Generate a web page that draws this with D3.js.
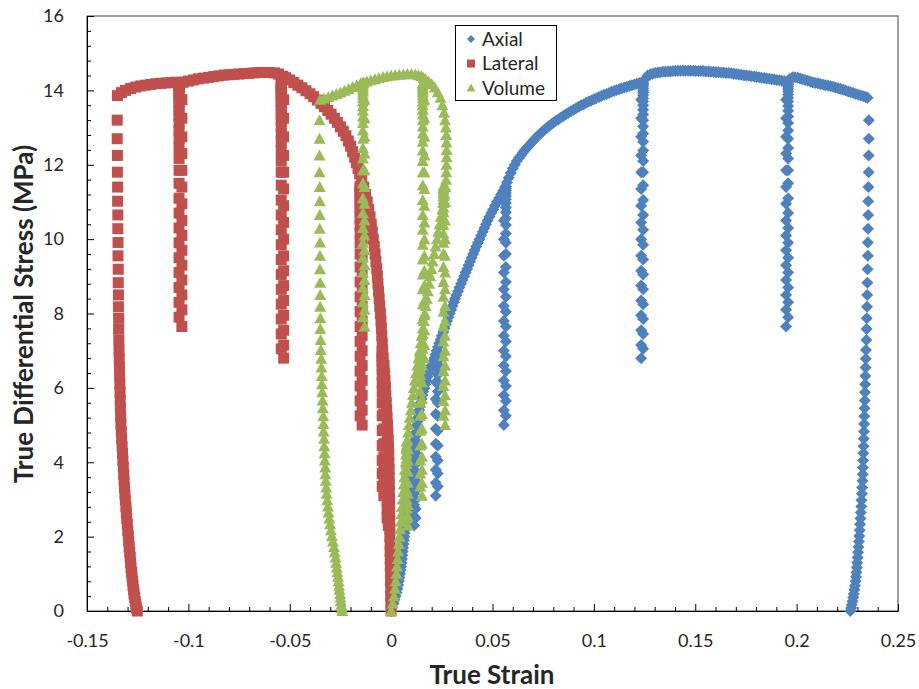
<!DOCTYPE html>
<html><head><meta charset="utf-8">
<script src="https://cdn.jsdelivr.net/npm/d3@7"></script>
<style>
html,body{margin:0;padding:0;background:#fff;}
svg{display:block;font-family:Lato,"Open Sans",sans-serif;}
</style></head><body>
<svg id="chart" width="919" height="689"></svg>
<script>
// ---------------- DATA ----------------
const seriesNames = ["Axial", "Lateral", "Volume"];
const xTickValues = [-0.15, -0.1, -0.05, 0, 0.05, 0.1, 0.15, 0.2, 0.25];
const xTickLabels = ["-0.15", "-0.1", "-0.05", "0", "0.05", "0.1", "0.15", "0.2", "0.25"];
const yTickValues = [0, 2, 4, 6, 8, 10, 12, 14, 16];
const yTickLabels = ["0", "2", "4", "6", "8", "10", "12", "14", "16"];
const xTitle = "True Strain";
const yTitle = "True Differential Stress (MPa)";

// loading envelope segments (strain, stress) between the unload/reload cycles
const axialEnv1 = [[0,0],[0.0006,0.1],[0.0012,0.2],[0.0017,0.3],[0.0022,0.4],[0.0027,0.5],[0.0031,0.6],[0.0035,0.7],[0.0038,0.8],[0.0041,0.9],[0.0044,1.0],[0.0047,1.1],[0.0049,1.2],[0.0051,1.3],[0.0053,1.4],[0.0055,1.5],[0.0057,1.6],[0.0059,1.7],[0.0061,1.8],[0.0063,1.9],[0.0065,2.0],[0.0067,2.1],[0.0069,2.2],[0.0071,2.3],[0.0073,2.4],[0.0075,2.5],[0.0077,2.6],[0.0079,2.7],[0.0081,2.8],[0.0083,2.9],[0.0085,3.0],[0.0087,3.1],[0.0089,3.2],[0.0091,3.3],[0.0093,3.4],[0.0095,3.5],[0.0097,3.6],[0.0099,3.7],[0.0101,3.8],[0.0103,3.9],[0.0105,4.0],[0.0107,4.1],[0.0109,4.2],[0.0111,4.3],[0.0113,4.4],[0.0115,4.5],[0.0117,4.6]];
const axialEnv2 = [[0.0120,4.7],[0.0122,4.8],[0.0125,4.9],[0.0127,5.0],[0.0130,5.1],[0.0132,5.2],[0.0135,5.3],[0.0138,5.4],[0.0142,5.5],[0.0146,5.6],[0.0150,5.7],[0.0154,5.8],[0.0158,5.9],[0.0163,6.0],[0.0168,6.1],[0.0173,6.2],[0.0179,6.3],[0.0185,6.4],[0.0192,6.5],[0.0199,6.6],[0.0206,6.7],[0.0213,6.8],[0.0219,6.9],[0.0225,7.0]];
const axialEnv3 = [[0.0231,7.1],[0.0237,7.2],[0.0244,7.3],[0.0250,7.4],[0.0257,7.5],[0.0263,7.6],[0.0270,7.7],[0.0276,7.8],[0.0283,7.9],[0.0289,8.0],[0.0296,8.1],[0.0302,8.2],[0.0309,8.3],[0.0315,8.4],[0.0322,8.5],[0.0330,8.6],[0.0337,8.7],[0.0345,8.8],[0.0352,8.9],[0.0360,9.0],[0.0367,9.1],[0.0375,9.2],[0.0382,9.3],[0.0390,9.4],[0.0397,9.5],[0.0405,9.6],[0.0412,9.7],[0.0420,9.8],[0.0428,9.9],[0.0436,10.0],[0.0444,10.1],[0.0452,10.2],[0.0460,10.3],[0.0468,10.4],[0.0476,10.5],[0.0485,10.6],[0.0494,10.7],[0.0503,10.8],[0.0512,10.9],[0.0522,11.0],[0.0532,11.1],[0.0542,11.2],[0.0552,11.3],[0.0562,11.4]];
const axialEnv4 = [[0.0571,11.52],[0.0580,11.65],[0.0590,11.78],[0.0600,11.9],[0.0610,12.0],[0.0620,12.1],[0.0630,12.18],[0.0640,12.25],[0.0650,12.33],[0.0660,12.4],[0.0670,12.46],[0.0680,12.52],[0.0690,12.58],[0.0700,12.64],[0.0710,12.7],[0.0720,12.76],[0.0730,12.81],[0.0740,12.86],[0.0750,12.91],[0.0760,12.96],[0.0770,13.0],[0.0780,13.05],[0.0790,13.09],[0.0800,13.13],[0.0812,13.18],[0.0825,13.22],[0.0837,13.27],[0.0850,13.31],[0.0862,13.36],[0.0875,13.4],[0.0887,13.44],[0.0900,13.48],[0.0912,13.52],[0.0925,13.56],[0.0937,13.6],[0.0950,13.63],[0.0962,13.67],[0.0975,13.7],[0.0987,13.73],[0.1000,13.76],[0.1012,13.79],[0.1025,13.82],[0.1037,13.85],[0.1050,13.88],[0.1062,13.9],[0.1075,13.93],[0.1087,13.96],[0.1100,13.98],[0.1112,14.01],[0.1125,14.03],[0.1137,14.06],[0.1150,14.08],[0.1162,14.1],[0.1175,14.12],[0.1187,14.14],[0.1200,14.16],[0.1212,14.18],[0.1225,14.2],[0.1240,14.22]];
const axialEnv5 = [[0.1252,14.3],[0.1265,14.4],[0.1278,14.43],[0.1290,14.45],[0.1302,14.47],[0.1315,14.48],[0.1327,14.49],[0.1340,14.5],[0.1352,14.5],[0.1365,14.51],[0.1377,14.51],[0.1390,14.52],[0.1402,14.52],[0.1415,14.53],[0.1427,14.53],[0.1440,14.53],[0.1452,14.53],[0.1465,14.53],[0.1477,14.53],[0.1490,14.53],[0.1502,14.52],[0.1515,14.52],[0.1527,14.52],[0.1540,14.52],[0.1552,14.51],[0.1565,14.51],[0.1577,14.5],[0.1590,14.5],[0.1602,14.49],[0.1615,14.49],[0.1627,14.48],[0.1640,14.48],[0.1652,14.47],[0.1665,14.47],[0.1677,14.46],[0.1690,14.45],[0.1702,14.44],[0.1715,14.43],[0.1727,14.42],[0.1740,14.41],[0.1752,14.4],[0.1765,14.39],[0.1777,14.38],[0.1790,14.37],[0.1802,14.36],[0.1815,14.35],[0.1827,14.34],[0.1840,14.33],[0.1852,14.32],[0.1865,14.31],[0.1877,14.3],[0.1890,14.29],[0.1902,14.28],[0.1915,14.27],[0.1927,14.26],[0.1940,14.25],[0.1955,14.24]];
const axialEnv6 = [[0.1965,14.3],[0.1980,14.35],[0.1992,14.35],[0.2005,14.34],[0.2017,14.32],[0.2030,14.3],[0.2042,14.28],[0.2055,14.26],[0.2067,14.24],[0.2080,14.22],[0.2092,14.2],[0.2105,14.19],[0.2117,14.17],[0.2130,14.16],[0.2142,14.14],[0.2155,14.13],[0.2167,14.11],[0.2180,14.1],[0.2192,14.08],[0.2205,14.06],[0.2217,14.04],[0.2230,14.02],[0.2242,14.0],[0.2255,13.97],[0.2267,13.95],[0.2280,13.93],[0.2292,13.9],[0.2305,13.88],[0.2317,13.86],[0.2330,13.84],[0.2340,13.82],[0.2350,13.8]];

const lateralEnv1 = [[0,0],[-0.0001,0.2],[-0.0002,0.4],[-0.0002,0.6],[-0.0003,0.8],[-0.0003,1.0],[-0.0004,1.2],[-0.0004,1.4],[-0.0005,1.6],[-0.0005,1.8],[-0.0006,2.0],[-0.0006,2.2],[-0.0007,2.4],[-0.0007,2.6],[-0.0008,2.8],[-0.0008,3.0],[-0.0009,3.2],[-0.0009,3.4],[-0.0010,3.6],[-0.0010,3.8],[-0.0011,4.0],[-0.0012,4.2],[-0.0013,4.4],[-0.0014,4.6]];
const lateralEnv2 = [[-0.0016,4.8],[-0.0018,5.0],[-0.0020,5.2],[-0.0022,5.4],[-0.0024,5.6],[-0.0026,5.8],[-0.0028,6.0],[-0.0030,6.2],[-0.0033,6.4],[-0.0036,6.6],[-0.0039,6.8],[-0.0042,7.0]];
const lateralEnv3 = [[-0.0044,7.2],[-0.0046,7.4],[-0.0048,7.6],[-0.0050,7.8],[-0.0053,8.0],[-0.0056,8.2],[-0.0059,8.4],[-0.0062,8.6],[-0.0065,8.8],[-0.0068,9.0],[-0.0071,9.2],[-0.0075,9.4],[-0.0079,9.6],[-0.0083,9.8],[-0.0088,10.0],[-0.0093,10.2],[-0.0098,10.4],[-0.0104,10.6],[-0.0111,10.8],[-0.0118,11.0],[-0.0126,11.2],[-0.0135,11.4],[-0.0145,11.6]];
const lateralEnv4 = [[-0.0155,11.75],[-0.0163,11.9],[-0.0171,12.05],[-0.0180,12.2],[-0.0190,12.35],[-0.0200,12.5],[-0.0211,12.64],[-0.0223,12.78],[-0.0236,12.9],[-0.0250,13.02],[-0.0265,13.14],[-0.0280,13.25],[-0.0296,13.36],[-0.0312,13.46],[-0.0329,13.56],[-0.0346,13.65],[-0.0364,13.74],[-0.0382,13.83],[-0.0400,13.91],[-0.0420,13.99],[-0.0440,14.07],[-0.0460,14.14],[-0.0480,14.21],[-0.0500,14.28],[-0.0520,14.34],[-0.0535,14.38]];
const lateralEnv5 = [[-0.0555,14.44],[-0.0575,14.47],[-0.0600,14.48],[-0.0625,14.48],[-0.0650,14.48],[-0.0675,14.47],[-0.0700,14.46],[-0.0725,14.45],[-0.0750,14.44],[-0.0775,14.43],[-0.0800,14.42],[-0.0825,14.41],[-0.0850,14.39],[-0.0875,14.37],[-0.0900,14.35],[-0.0925,14.33],[-0.0950,14.31],[-0.0975,14.28],[-0.1000,14.25],[-0.1025,14.22],[-0.1040,14.2]];
const lateralEnv6 = [[-0.1060,14.22],[-0.1085,14.21],[-0.1110,14.2],[-0.1135,14.19],[-0.1160,14.18],[-0.1185,14.16],[-0.1210,14.14],[-0.1235,14.12],[-0.1260,14.09],[-0.1285,14.05],[-0.1310,14.0],[-0.1330,13.94],[-0.1350,13.86]];

const volumeEnv1 = [[0,0],[0.0008,0.2],[0.0014,0.4],[0.0019,0.6],[0.0023,0.8],[0.0026,1.0],[0.0029,1.2],[0.0032,1.4],[0.0035,1.6],[0.0038,1.8],[0.0041,2.0],[0.0044,2.2],[0.0047,2.4],[0.0050,2.6],[0.0053,2.8],[0.0056,3.0],[0.0059,3.2],[0.0062,3.4],[0.0065,3.6],[0.0068,3.8],[0.0071,4.0],[0.0074,4.2],[0.0077,4.4],[0.0080,4.6]];
const volumeEnv2 = [[0.0084,4.8],[0.0088,5.0],[0.0092,5.2],[0.0097,5.4],[0.0102,5.6],[0.0107,5.8],[0.0112,6.0],[0.0117,6.2],[0.0123,6.4],[0.0129,6.6],[0.0135,6.8],[0.0141,7.0]];
const volumeEnv3 = [[0.0146,7.2],[0.0151,7.4],[0.0156,7.6],[0.0161,7.8],[0.0166,8.0],[0.0171,8.2],[0.0176,8.4],[0.0181,8.6],[0.0187,8.8],[0.0193,9.0],[0.0199,9.2],[0.0205,9.4],[0.0212,9.6],[0.0219,9.8],[0.0226,10.0],[0.0232,10.2],[0.0239,10.4],[0.0245,10.6],[0.0252,10.8],[0.0258,11.0],[0.0263,11.2],[0.0268,11.4],[0.0271,11.6]];
const volumeEnv4 = [[0.0272,11.8],[0.0273,12.0],[0.0274,12.2],[0.0274,12.4],[0.0273,12.6],[0.0272,12.8],[0.0270,13.0],[0.0266,13.2],[0.0261,13.4],[0.0253,13.6],[0.0243,13.8],[0.0230,13.95],[0.0215,14.08],[0.0200,14.17],[0.0185,14.24],[0.0170,14.3],[0.0160,14.33]];
const volumeEnv5 = [[0.0150,14.38],[0.0135,14.41],[0.0120,14.43],[0.0100,14.44],[0.0080,14.44],[0.0060,14.43],[0.0040,14.42],[0.0020,14.41],[0.0000,14.40],[-0.0020,14.38],[-0.0040,14.36],[-0.0060,14.33],[-0.0080,14.30],[-0.0100,14.27],[-0.0120,14.24],[-0.0135,14.21]];
const volumeEnv6 = [[-0.0150,14.19],[-0.0170,14.14],[-0.0190,14.09],[-0.0210,14.04],[-0.0230,13.99],[-0.0250,13.94],[-0.0270,13.9],[-0.0290,13.86],[-0.0310,13.82],[-0.0330,13.78],[-0.0350,13.75]];

// unload / reload cycles: stress samples shared by the three strain measures
const loopStressDown = [
  [4.35,4.05,3.75,3.45,3.15,2.85,2.55,2.3],
  [6.6,6.15,5.7,5.3,4.9,4.5,4.15,3.8,3.45,3.1],
  [11.0,10.5,10.0,9.55,9.1,8.65,8.2,7.8,7.4,7.0,6.6,6.2,5.8,5.4,5.0],
  [13.75,13.25,12.75,12.25,11.8,11.35,10.9,10.45,10.0,9.55,9.15,8.75,8.35,7.95,7.55,7.15,6.8],
  [13.75,13.25,12.75,12.3,11.85,11.4,10.95,10.5,10.1,9.7,9.3,8.9,8.5,8.1,7.65]
];
const loopStressUp = [
  [2.5,2.75,3.0,3.25,3.5,3.75,3.95,4.1,4.25,4.35,4.45,4.55],
  [3.35,3.7,4.05,4.45,4.85,5.25,5.6,5.9,6.15,6.35,6.5,6.62,6.72,6.8,6.87,6.93,6.98],
  [5.25,5.65,6.05,6.45,6.85,7.25,7.65,8.05,8.45,8.85,9.25,9.6,9.9,10.15,10.38,10.56,10.72,10.85,10.97,11.07,11.16,11.24,11.31,11.37,11.42],
  [7.05,7.45,7.85,8.25,8.65,9.05,9.45,9.85,10.25,10.65,11.05,11.45,11.8,12.1,12.38,12.62,12.84,13.03,13.2,13.35,13.48,13.6,13.7,13.79,13.87,13.94,14.0,14.06,14.11,14.16,14.2],
  [7.9,8.3,8.7,9.1,9.5,9.9,10.3,10.7,11.1,11.5,11.85,12.17,12.45,12.7,12.92,13.12,13.3,13.45,13.58,13.7,13.8,13.89,13.97,14.04,14.1,14.15,14.2]
];
// strain of each cycle: [unloading branch, reloading branch]
const axialLoopStrain   = [[0.0113,0.0121],[0.0220,0.0230],[0.0556,0.0566],[0.1233,0.1243],[0.1948,0.1958]];
const lateralLoopStrain = [[-0.0014,-0.0020],[-0.0036,-0.0044],[-0.0143,-0.0153],[-0.0530,-0.0542],[-0.1032,-0.1046]];
const volumeLoopStrain  = [[0.0082,0.0076],[0.0152,0.0144],[0.0266,0.0258],[0.0164,0.0156],[-0.0131,-0.0139]];

// final unloading
const finalStress = [13.2,12.7,12.25,11.8,11.4,11.02,10.65,10.28,9.91,9.55,9.19,8.83,8.5,8.18,7.87,7.58,7.29,7.02,6.78,6.55,6.32,6.1,5.88,5.66,5.45,5.24,5.03,4.83,4.63,4.43,4.24,4.05,3.86,3.68,3.5,3.32,3.15,2.98,2.81,2.65,2.49,2.33,2.17,2.02,1.87,1.72,1.58,1.44,1.3,1.17,1.04,0.92,0.8,0.68,0.57,0.46,0.36,0.26,0.17,0.08,0.0];
const axialFinalStrain = [0.2356,0.2356,0.2355,0.2355,0.2354,0.2353,0.2353,0.2352,0.2351,0.2351,0.2350,0.2349,0.2348,0.2347,0.2346,0.2345,0.2344,0.2342,0.2341,0.2340,0.2339,0.2338,0.2337,0.2336,0.2335,0.2334,0.2333,0.2332,0.2331,0.2330,0.2329,0.2328,0.2327,0.2326,0.2325,0.2323,0.2322,0.2320,0.2319,0.2317,0.2315,0.2313,0.2311,0.2309,0.2307,0.2305,0.2303,0.2301,0.2299,0.2297,0.2295,0.2293,0.2291,0.2288,0.2285,0.2282,0.2279,0.2276,0.2272,0.2269,0.2265];
const lateralFinalStrain = [-0.1351,-0.1351,-0.1350,-0.1350,-0.1349,-0.1349,-0.1348,-0.1348,-0.1347,-0.1347,-0.1346,-0.1346,-0.1345,-0.1345,-0.1344,-0.1344,-0.1343,-0.1342,-0.1341,-0.1340,-0.1339,-0.1338,-0.1337,-0.1336,-0.1335,-0.1334,-0.1333,-0.1331,-0.1329,-0.1327,-0.1325,-0.1323,-0.1321,-0.1319,-0.1317,-0.1315,-0.1313,-0.1311,-0.1308,-0.1306,-0.1304,-0.1301,-0.1299,-0.1296,-0.1294,-0.1292,-0.1289,-0.1287,-0.1285,-0.1283,-0.1280,-0.1278,-0.1275,-0.1273,-0.1270,-0.1268,-0.1265,-0.1262,-0.1259,-0.1256,-0.1252];
const volumeFinalStrain = [-0.0353,-0.0353,-0.0353,-0.0353,-0.0352,-0.0352,-0.0352,-0.0352,-0.0351,-0.0351,-0.0351,-0.0350,-0.0350,-0.0350,-0.0349,-0.0349,-0.0348,-0.0347,-0.0345,-0.0344,-0.0342,-0.0341,-0.0340,-0.0338,-0.0337,-0.0335,-0.0334,-0.0333,-0.0331,-0.0330,-0.0328,-0.0327,-0.0325,-0.0324,-0.0322,-0.0320,-0.0318,-0.0315,-0.0312,-0.0309,-0.0305,-0.0301,-0.0297,-0.0292,-0.0287,-0.0282,-0.0278,-0.0274,-0.0271,-0.0268,-0.0265,-0.0262,-0.0259,-0.0257,-0.0255,-0.0252,-0.0250,-0.0248,-0.0246,-0.0243,-0.0241];

// ---------------- BUILD ----------------
function buildSeries(envs, loopStrain, finalStrain) {
  const pts = [];
  envs.forEach((seg, i) => {
    seg.forEach(p => pts.push(p));
    if (i < loopStrain.length) {
      loopStressDown[i].forEach(s => pts.push([loopStrain[i][0], s]));
      loopStressUp[i].forEach(s => pts.push([loopStrain[i][1], s]));
    }
  });
  finalStress.forEach((s, j) => pts.push([finalStrain[j], s]));
  return pts;
}
const axialPts = buildSeries([axialEnv1,axialEnv2,axialEnv3,axialEnv4,axialEnv5,axialEnv6], axialLoopStrain, axialFinalStrain);
const lateralPts = buildSeries([lateralEnv1,lateralEnv2,lateralEnv3,lateralEnv4,lateralEnv5,lateralEnv6], lateralLoopStrain, lateralFinalStrain);
const volumePts = buildSeries([volumeEnv1,volumeEnv2,volumeEnv3,volumeEnv4,volumeEnv5,volumeEnv6], volumeLoopStrain, volumeFinalStrain);

const colors = ["#4F81BD", "#C0504D", "#9BBB59"];
const shapes = [
  "M0,-6L6,0L0,6L-6,0Z",
  "M-5.5,-5.5H5.5V5.5H-5.5Z",
  "M0,-6L6,5L-6,5Z"
];
const legendShapes = [
  "M0,-4L4,0L0,4L-4,0Z",
  "M-4,-4H4V4H-4Z",
  "M0,-4.5L4.5,3.5L-4.5,3.5Z"
];

const svg = d3.select("#chart");
const L = 87, R = 898, T = 16, B = 611;
const x = d3.scaleLinear().domain([-0.15, 0.25]).range([L, R]);
const y = d3.scaleLinear().domain([0, 16]).range([B, T]);

svg.append("rect").attr("width", 919).attr("height", 689).attr("fill", "#fff");

// plot border
svg.append("rect").attr("x", L).attr("y", T).attr("width", R - L).attr("height", B - T)
  .attr("fill", "none").attr("stroke", "#404040").attr("stroke-width", 1);

// axes
const fontColor = "#262626";
const xMinor = d3.range(-0.14, 0.25, 0.01).filter(v => Math.abs(Math.round(v * 100) % 5) !== 0);
const yMinor = d3.range(0.4, 16, 0.4).filter(v => Math.abs(v / 2 - Math.round(v / 2)) > 1e-6);

const gx = svg.append("g").attr("transform", `translate(0,${B})`)
  .call(d3.axisBottom(x).tickValues(xTickValues).tickSizeInner(-7).tickSizeOuter(0).tickPadding(23)
    .tickFormat((d, i) => xTickLabels[i]));
svg.append("g").attr("transform", `translate(0,${B})`)
  .call(d3.axisBottom(x).tickValues(xMinor).tickSizeInner(-4).tickSizeOuter(0).tickFormat(""))
  .select(".domain").remove();
const gy = svg.append("g").attr("transform", `translate(${L},0)`)
  .call(d3.axisLeft(y).tickValues(yTickValues).tickSizeInner(-7).tickSizeOuter(0).tickPadding(23)
    .tickFormat((d, i) => yTickLabels[i]));
svg.append("g").attr("transform", `translate(${L},0)`)
  .call(d3.axisLeft(y).tickValues(yMinor).tickSizeInner(-4).tickSizeOuter(0).tickFormat(""))
  .select(".domain").remove();

svg.selectAll(".tick line").attr("stroke", "#000");
svg.selectAll(".domain").attr("stroke", "#000");
[gx, gy].forEach(g => g.selectAll("text")
  .attr("font-family", "Lato, 'Open Sans', sans-serif")
  .attr("font-size", 18).attr("fill", fontColor));

// axis titles
svg.append("text").attr("x", 492).attr("y", 684).attr("text-anchor", "middle")
  .attr("font-size", 26).attr("font-weight", "bold").attr("fill", fontColor).text(xTitle);
svg.append("text").attr("transform", `translate(33,${314}) rotate(-90)`).attr("text-anchor", "middle")
  .attr("font-size", 26).attr("font-weight", "bold").attr("fill", fontColor).text(yTitle);

// series
[axialPts, lateralPts, volumePts].forEach((pts, si) => {
  svg.append("g").attr("class", "series-" + seriesNames[si])
    .selectAll("path").data(pts).join("path")
    .attr("transform", d => `translate(${x(d[0])},${y(d[1])})`)
    .attr("d", shapes[si])
    .attr("fill", colors[si]);
});

// legend
const lg = svg.append("g");
lg.append("rect").attr("x", 455.5).attr("y", 25.5).attr("width", 101).attr("height", 75)
  .attr("fill", "#fff").attr("stroke", "#000").attr("stroke-width", 1);
seriesNames.forEach((name, i) => {
  const cy = 39 + i * 24.5;
  lg.append("path").attr("transform", `translate(471,${cy})`).attr("d", legendShapes[i]).attr("fill", colors[i]);
  lg.append("text").attr("x", 482).attr("y", cy + 6.5).attr("font-size", 19).attr("fill", fontColor).text(name);
});
</script>
</body></html>
